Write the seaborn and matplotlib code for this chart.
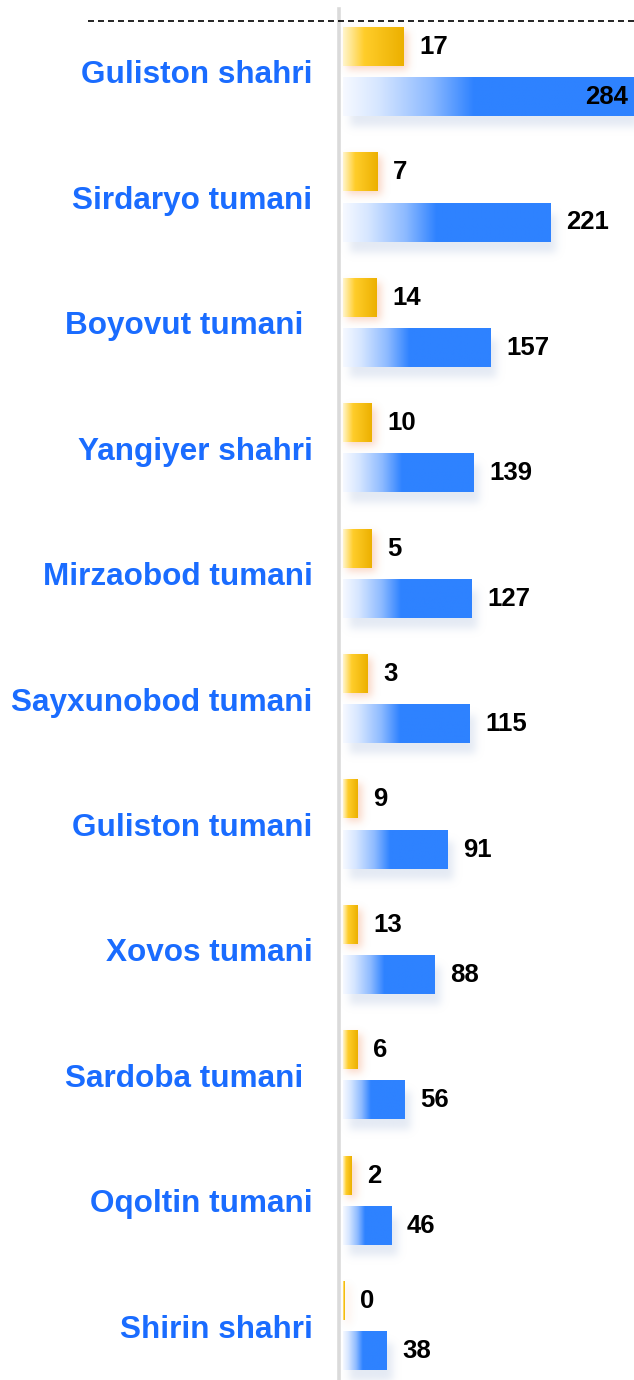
import math
import numpy as np
import pandas as pd
import matplotlib
matplotlib.use("Agg")
import matplotlib.pyplot as plt
import seaborn as sns
from matplotlib.colors import LinearSegmentedColormap, to_rgb
from matplotlib.lines import Line2D

regions = ["Guliston shahri", "Sirdaryo tumani", "Boyovut tumani ", "Yangiyer shahri",
           "Mirzaobod tumani", "Sayxunobod tumani", "Guliston tumani", "Xovos tumani",
           "Sardoba tumani ", "Oqoltin tumani", "Shirin shahri"]
yellow_vals = [17, 7, 14, 10, 5, 3, 9, 13, 6, 2, 0]
blue_vals = [284, 221, 157, 139, 127, 115, 91, 88, 56, 46, 38]
# bar lengths as drawn in the source graphic (not proportional to the labels)
yellow_bar = [61, 35, 34, 29, 29, 25, 15, 15, 15, 9, 2]
blue_bar = [291, 208, 148, 131, 129, 127, 105, 92, 62, 49, 44]

df = pd.DataFrame({
    "region": regions * 2,
    "series": ["yellow"] * len(regions) + ["blue"] * len(regions),
    "length": yellow_bar + blue_bar,
    "value": yellow_vals + blue_vals,
})

sns.set_style("white")
plt.rcParams["font.family"] = ["Liberation Sans", "DejaVu Sans"]

fig = plt.figure(figsize=(6.34, 13.8), dpi=100)
ax = fig.add_axes([343 / 634, 0, 291 / 634, 1])

sns.barplot(data=df, y="region", x="length", hue="series", orient="h",
            width=0.8, gap=0.24, palette={"yellow": "#f5c000", "blue": "#2e82ff"},
            legend=False, ax=ax)

ax.set_xlim(0, 291)
ax.set_ylim(10.43, -0.574)
ax.set_xlabel("")
ax.set_ylabel("")
ax.set_xticks([])
for s in ["top", "right", "bottom"]:
    ax.spines[s].set_visible(False)
ax.spines["left"].set_color("#dadada")
ax.spines["left"].set_linewidth(2.6)
ax.spines["left"].set_position(("outward", 3))
ax.spines["left"].set_bounds(-0.5, 10.43)
ax.tick_params(axis="y", length=0, pad=19)
for t in ax.get_yticklabels():
    t.set_fontsize(22.7)
    t.set_fontweight("bold")
    t.set_color("#1a6cff")

blue_cmap = LinearSegmentedColormap.from_list(
    "bl", [(0, "#f6f9ff"), (0.12, "#d6e6ff"), (0.3, "#8dbaff"), (0.45, "#2e82ff"), (1, "#2e82ff")])
yel_cmap = LinearSegmentedColormap.from_list(
    "yl", [(0, "#fff5cc"), (0.35, "#ffcd2a"), (1, "#ecb000")])
grad = np.linspace(0, 1, 256).reshape(1, -1)

# pixels per data unit
p0 = ax.transData.transform((0, 0))
p1 = ax.transData.transform((1, 1))
px_x = abs(p1[0] - p0[0])
px_y = abs(p1[1] - p0[1])

verf = np.vectorize(math.erf)


def shadow(x0, x1, y0, y1, dx, dy, sig, color, amax):
    # blurred rectangle in pixel space, mapped back to data units
    w = (x1 - x0) * px_x
    h = (y1 - y0) * px_y
    xs = np.linspace(-3 * sig, w + 3 * sig, 120)
    ys = np.linspace(-3 * sig, h + 3 * sig, 60)
    fx = 0.5 * (verf(xs / (sig * 1.414)) - verf((xs - w) / (sig * 1.414)))
    fy = 0.5 * (verf(ys / (sig * 1.414)) - verf((ys - h) / (sig * 1.414)))
    a = np.outer(fy, fx) * amax
    img = np.zeros(a.shape + (4,))
    img[..., :3] = to_rgb(color)
    img[..., 3] = a
    ex0 = x0 + (dx - 3 * sig) / px_x
    ex1 = x1 + (dx + 3 * sig) / px_x
    ey0 = y0 + (dy - 3 * sig) / px_y
    ey1 = y1 + (dy + 3 * sig) / px_y
    ax.imshow(img, extent=(ex0, ex1, ey1, ey0), aspect="auto",
              interpolation="bilinear", zorder=1, clip_on=False)


n = len(regions)
patches = list(ax.patches)
for i, p in enumerate(patches):
    x0 = p.get_x()
    w = p.get_width()
    y0 = p.get_y()
    h = p.get_height()
    is_blue = i >= n
    k = i % n
    p.set_visible(False)
    if is_blue:
        shadow(x0, x0 + w, y0, y0 + h, 6, 11, 4, "#c3d0e6", 0.45)
        cm = blue_cmap
    else:
        shadow(x0, x0 + w, y0, y0 + h, 4, 4, 4, "#f5a57f", 0.45)
        cm = yel_cmap
    ax.imshow(grad, cmap=cm, extent=(x0, x0 + w, y0 + h, y0), aspect="auto",
              interpolation="bilinear", zorder=2)
    val = blue_vals[k] if is_blue else yellow_vals[k]
    yc = y0 + h / 2
    if is_blue and k == 0:
        ax.annotate(str(val), (x0 + w, yc), xytext=(-6, 0), textcoords="offset pixels",
                    ha="right", va="center", fontsize=18.5, fontweight="bold", color="black", zorder=3)
    else:
        ax.annotate(str(val), (x0 + w, yc), xytext=(15, 0), textcoords="offset pixels",
                    ha="left", va="center", fontsize=18.5, fontweight="bold", color="black", zorder=3)

ax.set_xlim(0, 291)
ax.set_ylim(10.43, -0.574)

fig.add_artist(Line2D([88 / 634, 1], [1 - 21 / 1380] * 2, ls=(0, (3.6, 2.4)),
                      color="black", lw=1.2))

fig.savefig("out.png", dpi=100)
